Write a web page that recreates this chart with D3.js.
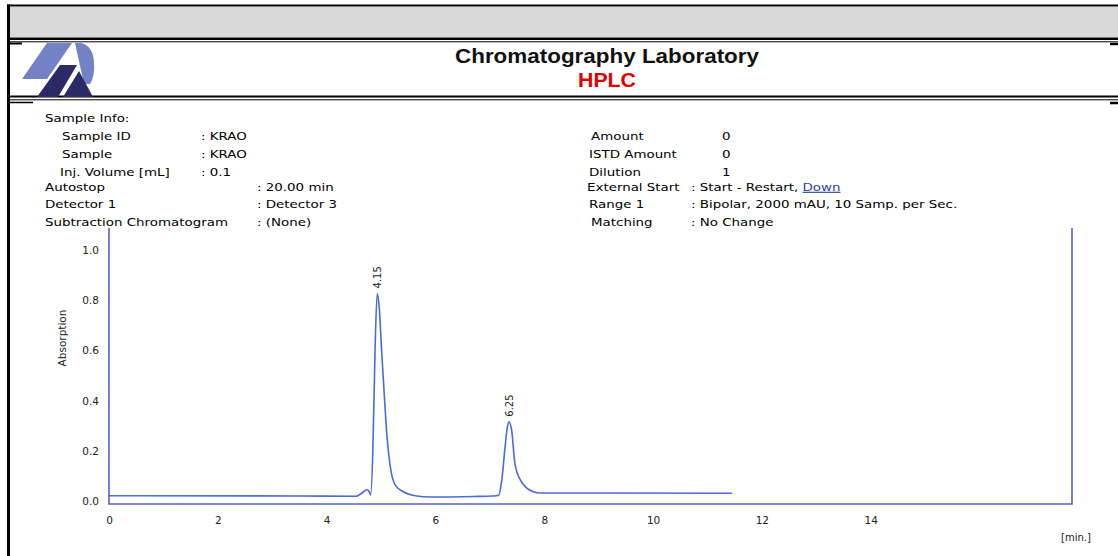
<!DOCTYPE html>
<html>
<head>
<meta charset="utf-8">
<script src="https://cdn.jsdelivr.net/npm/d3@7"></script>
<style>
  html, body { margin: 0; padding: 0; background: #fff; }
  svg { display: block; }
</style>
</head>
<body>
<div id="chart"></div>
<script>
// chromatogram trace (time in min, absorption)
var timeMin = [0, 3.51, 4.55, 4.65, 4.74, 4.78, 4.81, 4.85, 4.89, 4.93, 4.97, 5.01, 5.06, 5.11, 5.17, 5.26, 5.41, 5.66, 5.90, 6.70, 7.06, 7.16, 7.22, 7.28, 7.32, 7.35, 7.40, 7.46, 7.56, 7.68, 7.80, 7.92, 9.03, 11.45];
var absorption = [0.021, 0.020, 0.019, 0.032, 0.045, 0.038, 0.024, 0.203, 0.602, 0.827, 0.761, 0.602, 0.422, 0.256, 0.137, 0.064, 0.037, 0.020, 0.016, 0.018, 0.020, 0.022, 0.084, 0.216, 0.291, 0.316, 0.283, 0.150, 0.084, 0.051, 0.037, 0.032, 0.032, 0.031];

var peakTimes = [4.93, 7.353];
var peakHeights = [0.827, 0.316];
var peakLabels = ["4.15", "6.25"];

var xTicks = [0, 2, 4, 6, 8, 10, 12, 14];
var yTicks = [0, 0.2, 0.4, 0.6, 0.8, 1.0];

var infoLabels = ["Sample Info:", "Sample ID", "Sample", "Inj. Volume [mL]", "Autostop", "Detector 1", "Subtraction Chromatogram"];
var infoValues = ["", ": KRAO", ": KRAO", ": 0.1", ": 20.00 min", ": Detector 3", ": (None)"];
var rightLabels = ["Amount", "ISTD Amount", "Dilution", "External Start", "Range 1", "Matching"];
var rightValues = ["0", "0", "1", ": Start - Restart, ", ": Bipolar, 2000 mAU, 10 Samp. per Sec.", ": No Change"];

var width = 1118, height = 556;
var svg = d3.select("#chart").append("svg")
    .attr("width", width)
    .attr("height", height);

var textFont = "DejaVu Sans, Verdana, sans-serif";

//页眉框
var gHead = svg.append("g").attr("class", "gHead");
gHead.append("rect")
    .attr("x", 10).attr("y", 7)
    .attr("width", width - 10).attr("height", 30)
    .attr("fill", "#d9d9d9");
function hline(y, x1, x2, w) {
    gHead.append("line")
        .attr("x1", x1).attr("x2", x2)
        .attr("y1", y).attr("y2", y)
        .attr("stroke", "#000").attr("stroke-width", w);
}
hline(5.5, 7, width, 2);
hline(38.7, 10, width, 2.5);
hline(41.8, 10, width, 1);
hline(96.5, 10, width, 2);
hline(99.8, 10, width, 1);
hline(43.5, 10, 22, 2);
hline(102.5, 10, 33, 1.5);
hline(44, 1110, width, 2.5);
hline(103, 1110, width, 2.5);
gHead.append("line")
    .attr("x1", 8.5).attr("x2", 8.5)
    .attr("y1", 4.5).attr("y2", height)
    .attr("stroke", "#000").attr("stroke-width", 3);

//logo
var gLogo = svg.append("g").attr("class", "gLogo");
gLogo.append("path")
    .attr("d", "M47,43 L72,43 L47,79 L22,79 Z")
    .attr("fill", "#7282c5");
gLogo.append("path")
    .attr("d", "M75,43 L81,43 Q93,46 94,62 Q95,76 90,84 L84,84 Z")
    .attr("fill", "#7282c5");
gLogo.append("path")
    .attr("d", "M60,65 L77,65 L58,97 L37,97 Z")
    .attr("fill", "#2c2a66");
gLogo.append("path")
    .attr("d", "M79,71 L93,97 L63,97 Z")
    .attr("fill", "#2c2a66");

//标题
svg.append("text")
    .attr("x", 607).attr("y", 63)
    .attr("text-anchor", "middle")
    .attr("font-family", "Liberation Sans Narrow, Liberation Sans, Arial, sans-serif")
    .attr("font-weight", "bold")
    .attr("font-size", "21px")
    .attr("fill", "#111")
    .attr("textLength", 304)
    .attr("lengthAdjust", "spacingAndGlyphs")
    .text("Chromatography Laboratory");
svg.append("text")
    .attr("x", 607).attr("y", 87)
    .attr("text-anchor", "middle")
    .attr("font-family", "Liberation Sans Narrow, Liberation Sans, Arial, sans-serif")
    .attr("font-weight", "bold")
    .attr("font-size", "21px")
    .attr("fill", "#e00000")
    .attr("textLength", 58)
    .attr("lengthAdjust", "spacingAndGlyphs")
    .text("HPLC");

//样品信息 (文字略微横向拉宽)
var stretch = 1.22;
var rowY = [118, 136, 154, 172, 187, 204, 222];
var labelX = [45, 62, 62, 60, 45, 45, 45];
var valueX = [0, 201, 201, 201, 257, 257, 257];
var gInfo = svg.append("g")
    .attr("font-family", textFont)
    .attr("font-size", "11px")
    .attr("fill", "#000");
function infoText(px, py) {
    return gInfo.append("text")
        .attr("transform", "translate(" + px + "," + py + ") scale(" + stretch + ",1)")
        .attr("dy", "0.35em");
}
infoLabels.forEach(function (d, i) {
    infoText(labelX[i], rowY[i]).text(d);
    if (infoValues[i]) {
        infoText(valueX[i], rowY[i]).text(infoValues[i]);
    }
});
var rLabelX = [591, 589, 589, 587, 589, 591];
var rValueX = [722, 722, 722, 691, 691, 691];
rightLabels.forEach(function (d, i) {
    infoText(rLabelX[i], rowY[i + 1]).text(d);
    var t = infoText(rValueX[i], rowY[i + 1]);
    t.append("tspan").text(rightValues[i]);
    if (i === 3) {
        t.append("tspan")
            .attr("fill", "#1f3fa0")
            .attr("text-decoration", "underline")
            .text("Down");
    }
});

//图表
var x = d3.scaleLinear().domain([0, 17.7]).range([109, 1072]);
var y = d3.scaleLinear().domain([-0.012, 1.088]).range([504, 228]);
var axisColor = "#5664c4";
var lineColor = "#4a6cd6";

var gPlot = svg.append("g").attr("class", "gPlot");
gPlot.append("path")
    .attr("d", "M" + x(0) + "," + y.range()[1] + "V" + y.range()[0] + "H" + x.range()[1] + "V" + y.range()[1])
    .attr("fill", "none")
    .attr("stroke", axisColor)
    .attr("stroke-width", 1.6);

var xAxis = gPlot.append("g")
    .attr("transform", "translate(0," + y.range()[0] + ")")
    .call(d3.axisBottom(x).tickValues(xTicks).tickSize(0).tickPadding(13).tickFormat(d3.format("d")));
xAxis.select(".domain").remove();
xAxis.selectAll("text")
    .attr("font-family", textFont)
    .attr("font-size", "10.5px")
    .attr("fill", "#222");

var yAxis = gPlot.append("g")
    .attr("transform", "translate(" + x(0) + ",0)")
    .call(d3.axisLeft(y).tickValues(yTicks).tickSize(0).tickPadding(10).tickFormat(d3.format(".1f")));
yAxis.select(".domain").remove();
yAxis.selectAll("text")
    .attr("font-family", textFont)
    .attr("font-size", "10.5px")
    .attr("fill", "#222");

gPlot.append("text")
    .attr("transform", "translate(66,338) rotate(-90)")
    .attr("text-anchor", "middle")
    .attr("font-family", textFont)
    .attr("font-size", "10.5px")
    .attr("fill", "#222")
    .text("Absorption");

gPlot.append("text")
    .attr("x", 1076).attr("y", 541)
    .attr("text-anchor", "middle")
    .attr("font-family", textFont)
    .attr("font-size", "10px")
    .attr("fill", "#222")
    .text("[min.]");

var line = d3.line()
    .x(function (d, i) { return x(timeMin[i]); })
    .y(function (d) { return y(d); })
    .curve(d3.curveMonotoneX);
gPlot.append("path")
    .datum(absorption)
    .attr("d", line)
    .attr("fill", "none")
    .attr("stroke", lineColor)
    .attr("stroke-width", 1.6);

//峰标签
peakLabels.forEach(function (d, i) {
    gPlot.append("text")
        .attr("transform", "translate(" + (x(peakTimes[i]) + 4) + "," + (y(peakHeights[i]) - 5) + ") rotate(-90)")
        .attr("text-anchor", "start")
        .attr("font-family", textFont)
        .attr("font-size", "10px")
        .attr("fill", "#222")
        .text(d);
});
</script>
</body>
</html>
